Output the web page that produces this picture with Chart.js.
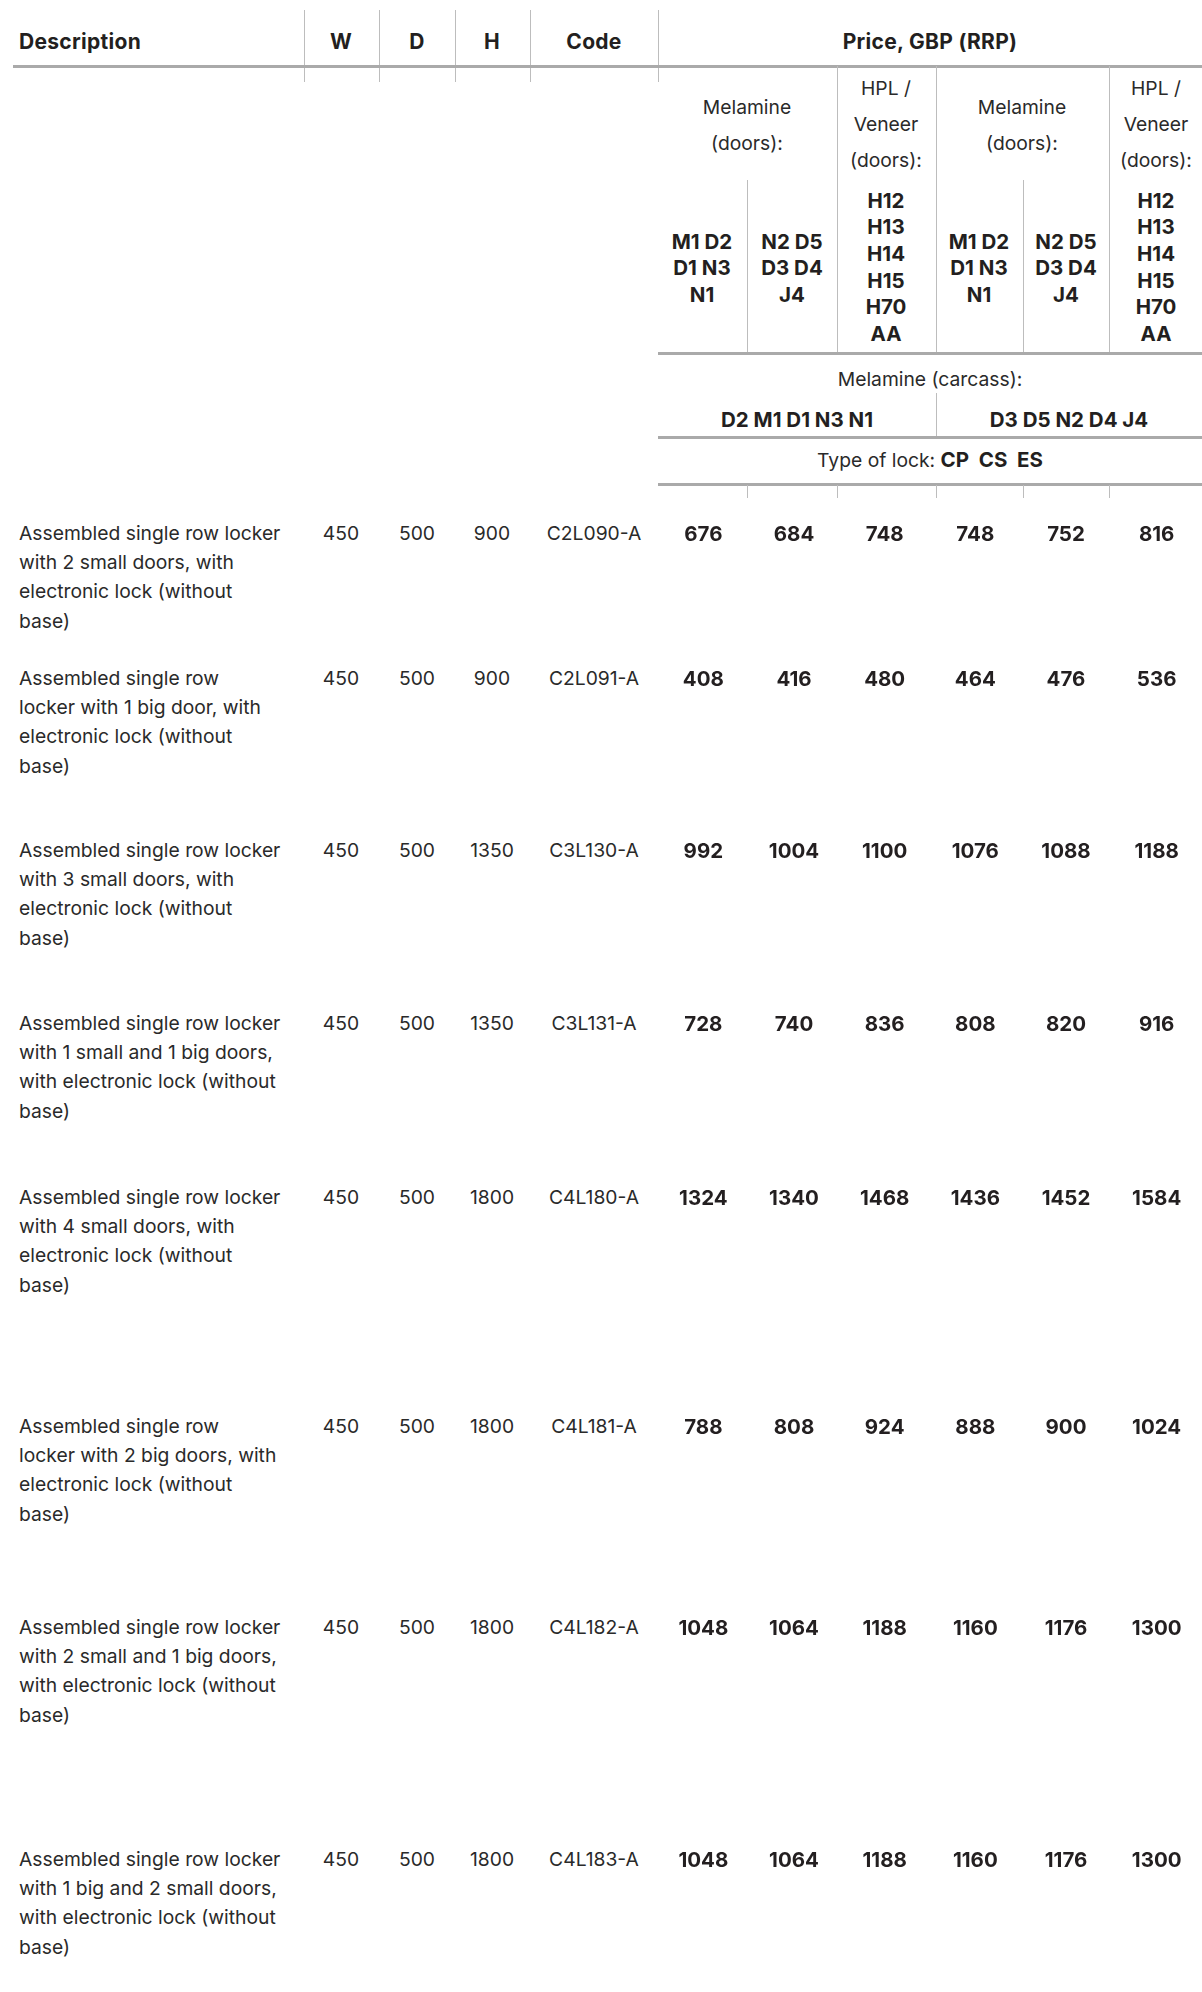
<!DOCTYPE html>
<html><head><meta charset="utf-8">
<script src="https://cdn.jsdelivr.net/npm/chart.js@4.4.1/dist/chart.umd.min.js"></script>
<style>
html,body{margin:0;padding:0;background:#fff;}
#page{position:relative;width:1202px;height:1992px;overflow:hidden;font-family:Inter,"Noto Sans",sans-serif;color:#231f20;}
.t{position:absolute;white-space:nowrap;font-size:19.3px;line-height:28px;font-weight:400;color:#2a2a2a;}
.c{transform:translateX(-50%);text-align:center;}
.b,b{font-weight:700;font-size:20.5px;color:#231f20;}
.h{font-size:21px;letter-spacing:0.3px;}
.vl{position:absolute;width:1px;background:#bdbdbd;}
.hl{position:absolute;height:3px;background:#aaaaaa;}
canvas.pc{position:absolute;}
</style></head>
<body><div id="page">
<!-- header row -->
<div class="t b h" style="left:19px;top:27.5px;">Description</div>
<div class="t b h c" style="left:341px;top:27.5px;">W</div>
<div class="t b h c" style="left:417px;top:27.5px;">D</div>
<div class="t b h c" style="left:492px;top:27.5px;">H</div>
<div class="t b h c" style="left:594px;top:27.5px;">Code</div>
<div class="t b h c" style="left:930px;top:27.5px;">Price, GBP (RRP)</div>
<div class="vl" style="left:304px;top:10px;height:72px;"></div>
<div class="vl" style="left:379px;top:10px;height:72px;"></div>
<div class="vl" style="left:455px;top:10px;height:72px;"></div>
<div class="vl" style="left:530px;top:10px;height:72px;"></div>
<div class="vl" style="left:658px;top:10px;height:72px;"></div>
<div class="hl" style="left:13px;top:65px;width:1189px;"></div>
<!-- price sub header -->
<div class="vl" style="left:837px;top:66px;height:287px;"></div>
<div class="vl" style="left:936px;top:66px;height:287px;"></div>
<div class="vl" style="left:1109px;top:66px;height:287px;"></div>
<div class="vl" style="left:747px;top:180px;height:173px;"></div>
<div class="vl" style="left:1023px;top:180px;height:173px;"></div>
<div class="t c" style="left:747px;top:88.5px;line-height:36px;">Melamine<br>(doors):</div>
<div class="t c" style="left:1022px;top:88.5px;line-height:36px;">Melamine<br>(doors):</div>
<div class="t c" style="left:886px;top:70px;line-height:36px;">HPL /<br>Veneer<br>(doors):</div>
<div class="t c" style="left:1156px;top:70px;line-height:36px;">HPL /<br>Veneer<br>(doors):</div>
<div class="t b c" style="left:702px;top:228.5px;line-height:26.7px;">M1 D2<br>D1 N3<br>N1</div>
<div class="t b c" style="left:792px;top:228.5px;line-height:26.7px;">N2 D5<br>D3 D4<br>J4</div>
<div class="t b c" style="left:886px;top:187.5px;line-height:26.7px;">H12<br>H13<br>H14<br>H15<br>H70<br>AA</div>
<div class="t b c" style="left:979px;top:228.5px;line-height:26.7px;">M1 D2<br>D1 N3<br>N1</div>
<div class="t b c" style="left:1066px;top:228.5px;line-height:26.7px;">N2 D5<br>D3 D4<br>J4</div>
<div class="t b c" style="left:1156px;top:187.5px;line-height:26.7px;">H12<br>H13<br>H14<br>H15<br>H70<br>AA</div>
<div class="hl" style="left:658px;top:352px;width:544px;"></div>
<div class="t c" style="left:930px;top:364.5px;">Melamine (carcass):</div>
<div class="vl" style="left:936px;top:393px;height:44px;"></div>
<div class="t b c" style="left:797px;top:405.5px;">D2 M1 D1 N3 N1</div>
<div class="t b c" style="left:1069px;top:405.5px;">D3 D5 N2 D4 J4</div>
<div class="hl" style="left:658px;top:436px;width:544px;"></div>
<div class="t c" style="left:930px;top:445.5px;">Type of lock: <b>CP&nbsp; CS&nbsp; ES</b></div>
<div class="hl" style="left:658px;top:483px;width:544px;"></div>
<div class="vl" style="left:747px;top:485px;height:13px;"></div>
<div class="vl" style="left:837px;top:485px;height:13px;"></div>
<div class="vl" style="left:936px;top:485px;height:13px;"></div>
<div class="vl" style="left:1023px;top:485px;height:13px;"></div>
<div class="vl" style="left:1109px;top:485px;height:13px;"></div>
</div>
<script>
// ---- data ----
const descriptions = [
  ["Assembled single row locker","with 2 small doors, with","electronic lock (without","base)"],
  ["Assembled single row","locker with 1 big door, with","electronic lock (without","base)"],
  ["Assembled single row locker","with 3 small doors, with","electronic lock (without","base)"],
  ["Assembled single row locker","with 1 small and 1 big doors,","with electronic lock (without","base)"],
  ["Assembled single row locker","with 4 small doors, with","electronic lock (without","base)"],
  ["Assembled single row","locker with 2 big doors, with","electronic lock (without","base)"],
  ["Assembled single row locker","with 2 small and 1 big doors,","with electronic lock (without","base)"],
  ["Assembled single row locker","with 1 big and 2 small doors,","with electronic lock (without","base)"]
];
const widthW = [450,450,450,450,450,450,450,450];
const depthD = [500,500,500,500,500,500,500,500];
const heightH = [900,900,1350,1350,1800,1800,1800,1800];
const codes = ["C2L090-A","C2L091-A","C3L130-A","C3L131-A","C4L180-A","C4L181-A","C4L182-A","C4L183-A"];
const priceColumns = ["M1 D2 D1 N3 N1 / D2 M1 D1 N3 N1","N2 D5 D3 D4 J4 / D2 M1 D1 N3 N1","HPL/Veneer / D2 M1 D1 N3 N1","M1 D2 D1 N3 N1 / D3 D5 N2 D4 J4","N2 D5 D3 D4 J4 / D3 D5 N2 D4 J4","HPL/Veneer / D3 D5 N2 D4 J4"];
const priceMelA = [676,408,992,728,1324,788,1048,1048];
const priceMelB = [684,416,1004,740,1340,808,1064,1064];
const priceHplA = [748,480,1100,836,1468,924,1188,1188];
const priceMelC = [748,464,1076,808,1436,888,1160,1160];
const priceMelD = [752,476,1088,820,1452,900,1176,1176];
const priceHplB = [816,536,1188,916,1584,1024,1300,1300];
const priceSeries = [priceMelA,priceMelB,priceHplA,priceMelC,priceMelD,priceHplB];

// ---- layout (styles) ----
const rowCenters = [533.5,678.5,850.5,1023.5,1197.5,1426.5,1627.5,1859.5];
const lineH = 29.2;
const page = document.getElementById('page');
function addText(html, left, top, cls, extra){
  const d = document.createElement('div');
  d.className = 't ' + (cls||'');
  d.style.left = left + 'px'; d.style.top = top + 'px';
  if (extra) Object.assign(d.style, extra);
  d.innerHTML = html; page.appendChild(d); return d;
}
const valueLabels = {
  id:'valueLabels',
  afterDatasetsDraw(chart){
    const {ctx, chartArea, scales} = chart;
    const ds = chart.data.datasets[0];
    ctx.save();
    ctx.font = '700 20.5px Inter, "Noto Sans", sans-serif';
    ctx.fillStyle = '#231f20'; ctx.textAlign = 'center'; ctx.textBaseline = 'middle';
    ds.data.forEach((v,i)=>{
      ctx.fillText(String(v), scales.x.getPixelForValue(i), (chartArea.top + chartArea.bottom)/2 + 1);
    });
    ctx.restore();
  }
};
descriptions.forEach((lines, r)=>{
  const c = rowCenters[r];
  const top = c - lineH/2;
  addText(lines.join('<br>'), 19, top, '', {lineHeight: lineH + 'px'});
  addText(String(widthW[r]), 341, top, 'c', {lineHeight: lineH + 'px'});
  addText(String(depthD[r]), 417, top, 'c', {lineHeight: lineH + 'px'});
  addText(String(heightH[r]), 492, top, 'c', {lineHeight: lineH + 'px'});
  addText(codes[r], 594, top, 'c', {lineHeight: lineH + 'px'});
  const cv = document.createElement('canvas');
  cv.className = 'pc'; cv.width = 544; cv.height = 30;
  cv.style.left = '658px'; cv.style.top = (c - 15) + 'px';
  cv.style.width = '544px'; cv.style.height = '30px';
  page.appendChild(cv);
  new Chart(cv, {
    type: 'line',
    data: { labels: priceColumns, datasets: [{ data: priceSeries.map(s => s[r]), showLine: false, pointRadius: 0 }] },
    options: {
      responsive: false, animation: false, devicePixelRatio: 1,
      layout: { padding: 0 },
      plugins: { legend: { display: false }, tooltip: { enabled: false } },
      scales: { x: { type: 'category', offset: true, display: false }, y: { display: false } }
    },
    plugins: [valueLabels]
  });
});
</script>
</body></html>
